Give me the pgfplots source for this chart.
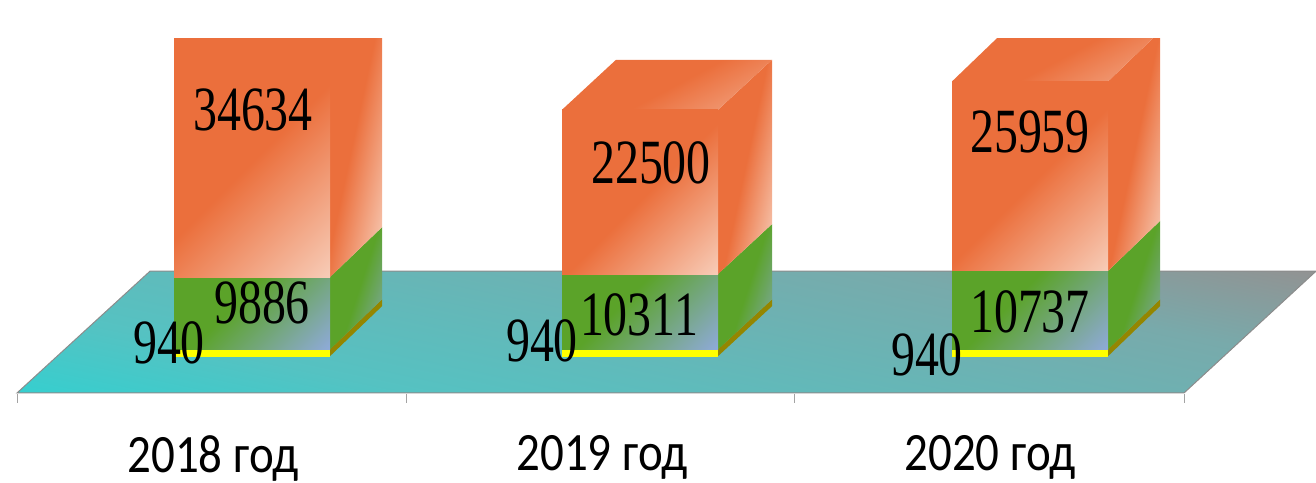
\documentclass[border=0pt]{standalone}
\usepackage{pgfplots}
\pgfplotsset{compat=1.18}
\usepackage{fontspec}
\newfontfamily\numf[FakeStretch=0.76]{Liberation Serif}
\newfontfamily\catf[FakeStretch=0.87]{Carlito}
\definecolor{oo}{HTML}{EB6F3C}
\definecolor{ol}{HTML}{F7CBB6}
\definecolor{gg}{HTML}{5BA329}
\definecolor{gl}{HTML}{8EAAD8}
\definecolor{yy}{HTML}{FFFF00}
\definecolor{ys}{HTML}{948600}
\definecolor{fc}{HTML}{35CFCF}
\definecolor{fb}{HTML}{55C2C2}
\definecolor{fm}{HTML}{78AAAB}
\definecolor{fg}{HTML}{929292}
\definecolor{ax}{HTML}{8C8C8C}
\pgfdeclarehorizontalshading{ofront}{100bp}{color(0bp)=(oo); color(52bp)=(oo); color(85bp)=(ol); color(100bp)=(ol)}
\pgfdeclarehorizontalshading{oside}{100bp}{color(0bp)=(oo); color(50bp)=(oo); color(78bp)=(ol); color(100bp)=(ol)}
\pgfdeclarehorizontalshading{gfront}{100bp}{color(0bp)=(gg); color(42bp)=(gg); color(85bp)=(gl); color(100bp)=(gl)}
\pgfdeclarehorizontalshading{gside}{100bp}{color(0bp)=(gg); color(52bp)=(gg); color(80bp)=(gl!75!gg); color(100bp)=(gl)}
\pgfdeclarehorizontalshading{otop}{100bp}{color(0bp)=(oo); color(52bp)=(oo); color(85bp)=(ol!65!oo); color(100bp)=(ol)}
\pgfdeclarehorizontalshading{floorsh}{100bp}{color(0bp)=(fc); color(20bp)=(fc); color(33bp)=(fb); color(66bp)=(fm); color(80bp)=(fg); color(100bp)=(fg)}
\newcommand\dx{52}
\newcommand\dy{6849}
\newcommand\cube[5]{% #1 bar centre, #2 right edge, #3 #4 #5 values
  \edef\xb{\the\numexpr#2+\dx\relax}%
  \edef\xl{\the\numexpr#2-156\relax}%
  \edef\xk{\the\numexpr#2-156+\dx\relax}%
  \edef\ya{\the\numexpr#3\relax}\edef\yb{\the\numexpr#3+#4\relax}\edef\yc{\the\numexpr#3+#4+#5\relax}%
  \edef\yab{\the\numexpr\ya+\dy\relax}\edef\ybb{\the\numexpr\yb+\dy\relax}\edef\ycb{\the\numexpr\yc+\dy\relax}%
  \addplot[draw=none,fill=ys] coordinates {(#2,0)(\xb,\dy)(\xb,\yab)(#2,\ya)} --cycle;
  \addplot[draw=none,shading=gside,shading angle=-18] coordinates {(#2,\ya)(\xb,\yab)(\xb,\ybb)(#2,\yb)} --cycle;
  \addplot[draw=none,shading=oside,shading angle=-12] coordinates {(#2,\yb)(\xb,\ybb)(\xb,\ycb)(#2,\yc)} --cycle;
  \addplot[draw=none,shading=otop,shading angle=-62] coordinates {(\xl,\yc)(#2,\yc)(\xb,\ycb)(\xk,\ycb)} --cycle;
  \addplot[ybar,stack plots=y,bar width=155pt,bar shift=0pt,draw=yy,line width=1pt,fill=yy] coordinates {(#1,#3)};
  \addplot[ybar,stack plots=y,bar width=156pt,bar shift=0pt,draw=none,shading=gfront,shading angle=-45] coordinates {(#1,#4)};
  \addplot[ybar,stack plots=y,bar width=156pt,bar shift=0pt,draw=none,shading=ofront,shading angle=-45] coordinates {(#1,#5)};
}
\newcommand\lbl[3]{\node[font=\fontsize{63}{63}\numf,inner sep=0pt,text=black] at (axis cs:#1,{\the\numexpr 48703-#2*137\relax}) {#3};}
\pgfplotsset{base/.style={
  at={(0,121)},anchor=south west,
  scale only axis,width=1316pt,height=355pt,
  xmin=0,xmax=1316,ymin=-5137,ymax=43493,clip=true}}
\begin{document}
\begin{tikzpicture}[x=1pt,y=1pt]
\path[use as bounding box] (0,0) rectangle (1316,482);
\begin{axis}[base,
  axis x line*=bottom,axis y line=none,
  axis line style={draw=none},
  xtick={213,602,990},
  xticklabels={2018 год,2019 год,2020 год},
  minor xtick={17,406,794,1184},
  major tick length=0pt,minor tick length=9pt,
  tick align=outside,xtick pos=bottom,
  minor tick style={draw=ax!80,line width=0.9pt},
  xticklabel style={font=\fontsize{54}{54}\catf,text=black,yshift=-42pt,inner sep=0pt},
]
\addplot[draw=none,shading=floorsh,shading angle=78] coordinates {(17,-5041)(150,11644)(1316,11644)(1184,-5041)} --cycle;
\addplot[draw=ax,line width=1pt] coordinates {(1316,11644)(150,11644)(17,-5041)(1184,-5041)(1316,11644)};
\cube{252}{330}{940}{9886}{34634}
\end{axis}
\begin{axis}[base,hide axis]
\renewcommand\dx{54}
\cube{640}{718}{940}{10311}{22500}
\renewcommand\dx{52}
\end{axis}
\begin{axis}[base,hide axis]
\cube{1030}{1108}{940}{10737}{25959}
\lbl{253}{109}{34634}
\lbl{651}{162}{22500}
\lbl{1030}{131}{25959}
\lbl{262}{302}{9886}
\lbl{639}{314}{10311}
\lbl{1030}{311}{10737}
\lbl{169}{342}{940}
\lbl{542}{340}{940}
\lbl{927}{354}{940}
\end{axis}
\end{tikzpicture}
\end{document}
